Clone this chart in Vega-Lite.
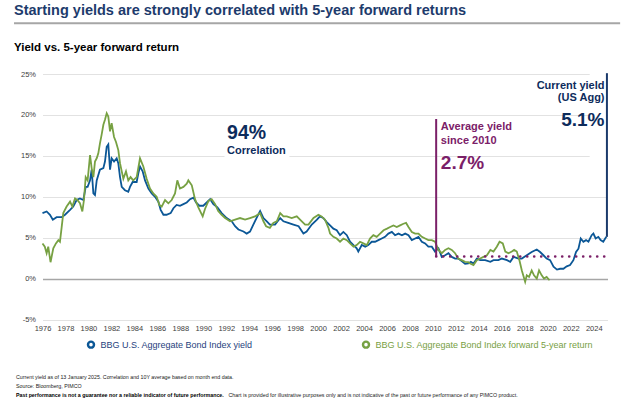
{
 "$schema": "https://vega.github.io/schema/vega-lite/v6.json",
 "width": 565, "height": 245.5,
 "autosize": {"type": "none"},
 "padding": {"left": 42.5, "top": 74, "right": 16.5, "bottom": 79.5},
 "background": "white",
 "resolve": {"axis": {"x": "independent", "y": "independent"}},
 "data": {"values": [
  {"series":"yield","year":1976.0,"value":8.0},{"series":"yield","year":1976.36,"value":8.2},{"series":"yield","year":1976.65,"value":7.8},{"series":"yield","year":1976.9,"value":7.2},{"series":"yield","year":1977.23,"value":7.5},{"series":"yield","year":1977.67,"value":7.5},{"series":"yield","year":1977.96,"value":7.8},{"series":"yield","year":1978.4,"value":8.4},{"series":"yield","year":1978.68,"value":8.8},{"series":"yield","year":1978.97,"value":9.6},{"series":"yield","year":1979.26,"value":9.8},{"series":"yield","year":1979.56,"value":9.6},{"series":"yield","year":1979.76,"value":11.2},{"series":"yield","year":1979.93,"value":11.2},{"series":"yield","year":1980.14,"value":12.0},{"series":"yield","year":1980.28,"value":13.3},{"series":"yield","year":1980.43,"value":10.4},{"series":"yield","year":1980.57,"value":10.2},{"series":"yield","year":1980.72,"value":12.0},{"series":"yield","year":1981.0,"value":13.3},{"series":"yield","year":1981.3,"value":13.5},{"series":"yield","year":1981.44,"value":14.3},{"series":"yield","year":1981.59,"value":16.1},{"series":"yield","year":1981.73,"value":16.4},{"series":"yield","year":1981.88,"value":13.3},{"series":"yield","year":1982.02,"value":14.7},{"series":"yield","year":1982.23,"value":14.3},{"series":"yield","year":1982.46,"value":14.7},{"series":"yield","year":1982.6,"value":14.1},{"series":"yield","year":1982.75,"value":12.4},{"series":"yield","year":1982.9,"value":11.2},{"series":"yield","year":1983.18,"value":10.8},{"series":"yield","year":1983.47,"value":10.6},{"series":"yield","year":1983.62,"value":11.2},{"series":"yield","year":1983.85,"value":11.8},{"series":"yield","year":1984.2,"value":11.8},{"series":"yield","year":1984.35,"value":12.9},{"series":"yield","year":1984.49,"value":13.7},{"series":"yield","year":1984.72,"value":13.1},{"series":"yield","year":1984.93,"value":12.0},{"series":"yield","year":1985.22,"value":11.0},{"series":"yield","year":1985.51,"value":10.4},{"series":"yield","year":1985.8,"value":10.0},{"series":"yield","year":1986.09,"value":9.4},{"series":"yield","year":1986.29,"value":8.4},{"series":"yield","year":1986.53,"value":7.8},{"series":"yield","year":1986.8,"value":7.8},{"series":"yield","year":1987.16,"value":8.0},{"series":"yield","year":1987.4,"value":8.6},{"series":"yield","year":1987.68,"value":9.0},{"series":"yield","year":1987.97,"value":8.9},{"series":"yield","year":1988.27,"value":9.1},{"series":"yield","year":1988.56,"value":9.3},{"series":"yield","year":1988.85,"value":9.7},{"series":"yield","year":1989.14,"value":9.9},{"series":"yield","year":1989.37,"value":9.3},{"series":"yield","year":1989.66,"value":8.9},{"series":"yield","year":1990.0,"value":8.9},{"series":"yield","year":1990.3,"value":9.3},{"series":"yield","year":1990.6,"value":9.7},{"series":"yield","year":1990.88,"value":9.1},{"series":"yield","year":1991.23,"value":8.7},{"series":"yield","year":1991.6,"value":8.0},{"series":"yield","year":1992.04,"value":7.4},{"series":"yield","year":1992.48,"value":7.0},{"series":"yield","year":1992.77,"value":6.4},{"series":"yield","year":1993.06,"value":6.0},{"series":"yield","year":1993.5,"value":5.75},{"series":"yield","year":1993.78,"value":5.5},{"series":"yield","year":1994.07,"value":5.75},{"series":"yield","year":1994.36,"value":6.6},{"series":"yield","year":1994.71,"value":7.6},{"series":"yield","year":1994.95,"value":8.25},{"series":"yield","year":1995.24,"value":7.4},{"series":"yield","year":1995.53,"value":7.0},{"series":"yield","year":1995.8,"value":6.6},{"series":"yield","year":1996.25,"value":6.6},{"series":"yield","year":1996.7,"value":7.4},{"series":"yield","year":1996.98,"value":7.0},{"series":"yield","year":1997.4,"value":6.8},{"series":"yield","year":1997.85,"value":6.6},{"series":"yield","year":1998.3,"value":6.4},{"series":"yield","year":1998.72,"value":5.5},{"series":"yield","year":1999.0,"value":5.75},{"series":"yield","year":1999.45,"value":6.6},{"series":"yield","year":1999.9,"value":7.2},{"series":"yield","year":2000.16,"value":7.6},{"series":"yield","year":2000.45,"value":7.4},{"series":"yield","year":2000.75,"value":6.9},{"series":"yield","year":2001.04,"value":6.5},{"series":"yield","year":2001.33,"value":6.1},{"series":"yield","year":2001.62,"value":5.9},{"series":"yield","year":2001.91,"value":5.3},{"series":"yield","year":2002.2,"value":5.7},{"series":"yield","year":2002.5,"value":5.3},{"series":"yield","year":2002.78,"value":4.5},{"series":"yield","year":2003.08,"value":4.1},{"series":"yield","year":2003.36,"value":3.7},{"series":"yield","year":2003.5,"value":3.3},{"series":"yield","year":2003.8,"value":4.1},{"series":"yield","year":2004.1,"value":3.9},{"series":"yield","year":2004.37,"value":4.1},{"series":"yield","year":2004.67,"value":4.5},{"series":"yield","year":2004.96,"value":4.5},{"series":"yield","year":2005.25,"value":4.7},{"series":"yield","year":2005.54,"value":4.9},{"series":"yield","year":2005.83,"value":5.1},{"series":"yield","year":2006.12,"value":5.5},{"series":"yield","year":2006.42,"value":5.7},{"series":"yield","year":2006.7,"value":5.3},{"series":"yield","year":2007.0,"value":5.5},{"series":"yield","year":2007.3,"value":5.3},{"series":"yield","year":2007.58,"value":5.5},{"series":"yield","year":2007.87,"value":5.3},{"series":"yield","year":2008.16,"value":4.7},{"series":"yield","year":2008.45,"value":4.9},{"series":"yield","year":2008.74,"value":5.1},{"series":"yield","year":2009.03,"value":4.5},{"series":"yield","year":2009.32,"value":4.3},{"series":"yield","year":2009.6,"value":3.9},{"series":"yield","year":2009.9,"value":3.9},{"series":"yield","year":2010.18,"value":3.3},{"series":"yield","year":2010.48,"value":3.7},{"series":"yield","year":2010.77,"value":2.65},{"series":"yield","year":2011.06,"value":2.85},{"series":"yield","year":2011.35,"value":3.1},{"series":"yield","year":2011.64,"value":2.65},{"series":"yield","year":2011.93,"value":2.45},{"series":"yield","year":2012.2,"value":2.45},{"series":"yield","year":2012.5,"value":2.15},{"series":"yield","year":2012.8,"value":1.8},{"series":"yield","year":2013.08,"value":1.85},{"series":"yield","year":2013.3,"value":2.05},{"series":"yield","year":2013.53,"value":1.85},{"series":"yield","year":2013.82,"value":2.45},{"series":"yield","year":2014.11,"value":2.25},{"series":"yield","year":2014.55,"value":2.25},{"series":"yield","year":2015.0,"value":2.05},{"series":"yield","year":2015.27,"value":2.25},{"series":"yield","year":2015.7,"value":2.25},{"series":"yield","year":2016.0,"value":2.45},{"series":"yield","year":2016.45,"value":2.25},{"series":"yield","year":2016.73,"value":2.05},{"series":"yield","year":2017.02,"value":2.65},{"series":"yield","year":2017.46,"value":2.45},{"series":"yield","year":2017.74,"value":2.45},{"series":"yield","year":2018.17,"value":2.85},{"series":"yield","year":2018.6,"value":3.25},{"series":"yield","year":2019.04,"value":3.55},{"series":"yield","year":2019.33,"value":3.25},{"series":"yield","year":2019.62,"value":2.85},{"series":"yield","year":2019.9,"value":2.45},{"series":"yield","year":2020.2,"value":2.25},{"series":"yield","year":2020.5,"value":1.45},{"series":"yield","year":2020.8,"value":1.1},{"series":"yield","year":2021.07,"value":1.2},{"series":"yield","year":2021.36,"value":1.2},{"series":"yield","year":2021.65,"value":1.5},{"series":"yield","year":2021.94,"value":1.65},{"series":"yield","year":2022.23,"value":2.25},{"series":"yield","year":2022.46,"value":3.25},{"series":"yield","year":2022.67,"value":3.65},{"series":"yield","year":2022.87,"value":4.9},{"series":"yield","year":2023.1,"value":4.5},{"series":"yield","year":2023.33,"value":4.7},{"series":"yield","year":2023.54,"value":4.5},{"series":"yield","year":2023.82,"value":5.3},{"series":"yield","year":2023.97,"value":5.5},{"series":"yield","year":2024.17,"value":4.9},{"series":"yield","year":2024.4,"value":5.1},{"series":"yield","year":2024.6,"value":4.7},{"series":"yield","year":2024.83,"value":4.5},{"series":"yield","year":2025.0,"value":4.9},{"series":"yield","year":2025.1,"value":5.1},
  {"series":"return","year":1976.0,"value":4.3},{"series":"return","year":1976.2,"value":3.9},{"series":"return","year":1976.36,"value":3.1},{"series":"return","year":1976.5,"value":3.9},{"series":"return","year":1976.7,"value":2.0},{"series":"return","year":1976.94,"value":3.7},{"series":"return","year":1977.17,"value":4.3},{"series":"return","year":1977.38,"value":4.7},{"series":"return","year":1977.52,"value":4.5},{"series":"return","year":1977.67,"value":6.3},{"series":"return","year":1977.81,"value":8.0},{"series":"return","year":1978.1,"value":8.8},{"series":"return","year":1978.4,"value":9.4},{"series":"return","year":1978.6,"value":8.8},{"series":"return","year":1978.83,"value":9.8},{"series":"return","year":1979.03,"value":9.6},{"series":"return","year":1979.26,"value":9.2},{"series":"return","year":1979.47,"value":8.2},{"series":"return","year":1979.61,"value":9.6},{"series":"return","year":1979.76,"value":12.4},{"series":"return","year":1979.93,"value":12.0},{"series":"return","year":1980.14,"value":15.1},{"series":"return","year":1980.28,"value":13.5},{"series":"return","year":1980.43,"value":12.4},{"series":"return","year":1980.57,"value":14.3},{"series":"return","year":1980.72,"value":14.7},{"series":"return","year":1980.86,"value":15.3},{"series":"return","year":1981.0,"value":16.5},{"series":"return","year":1981.15,"value":17.6},{"series":"return","year":1981.3,"value":18.8},{"series":"return","year":1981.44,"value":19.4},{"series":"return","year":1981.59,"value":20.2},{"series":"return","year":1981.73,"value":19.8},{"series":"return","year":1981.88,"value":18.0},{"series":"return","year":1982.02,"value":19.0},{"series":"return","year":1982.23,"value":17.3},{"series":"return","year":1982.4,"value":16.7},{"series":"return","year":1982.6,"value":15.7},{"series":"return","year":1982.75,"value":14.1},{"series":"return","year":1982.9,"value":13.1},{"series":"return","year":1983.04,"value":12.2},{"series":"return","year":1983.27,"value":13.1},{"series":"return","year":1983.47,"value":12.0},{"series":"return","year":1983.67,"value":12.4},{"series":"return","year":1983.9,"value":12.0},{"series":"return","year":1984.2,"value":12.4},{"series":"return","year":1984.49,"value":14.7},{"series":"return","year":1984.78,"value":13.7},{"series":"return","year":1985.07,"value":12.2},{"series":"return","year":1985.36,"value":11.0},{"series":"return","year":1985.65,"value":10.4},{"series":"return","year":1985.94,"value":10.0},{"series":"return","year":1986.18,"value":9.0},{"series":"return","year":1986.38,"value":8.8},{"series":"return","year":1986.67,"value":9.6},{"series":"return","year":1986.96,"value":9.2},{"series":"return","year":1987.25,"value":9.6},{"series":"return","year":1987.54,"value":10.4},{"series":"return","year":1987.74,"value":12.0},{"series":"return","year":1987.97,"value":11.0},{"series":"return","year":1988.27,"value":11.2},{"series":"return","year":1988.56,"value":11.6},{"series":"return","year":1988.7,"value":12.0},{"series":"return","year":1989.0,"value":11.4},{"series":"return","year":1989.28,"value":9.7},{"series":"return","year":1989.57,"value":8.7},{"series":"return","year":1989.95,"value":7.6},{"series":"return","year":1990.15,"value":8.5},{"series":"return","year":1990.45,"value":9.5},{"series":"return","year":1990.73,"value":9.7},{"series":"return","year":1991.03,"value":9.1},{"series":"return","year":1991.3,"value":8.25},{"series":"return","year":1991.6,"value":7.8},{"series":"return","year":1991.9,"value":7.4},{"series":"return","year":1992.33,"value":7.0},{"series":"return","year":1992.77,"value":7.2},{"series":"return","year":1993.2,"value":7.4},{"series":"return","year":1993.64,"value":7.2},{"series":"return","year":1994.07,"value":7.4},{"series":"return","year":1994.5,"value":7.6},{"series":"return","year":1994.95,"value":8.0},{"series":"return","year":1995.24,"value":7.0},{"series":"return","year":1995.47,"value":6.4},{"series":"return","year":1995.8,"value":6.2},{"series":"return","year":1996.1,"value":6.8},{"series":"return","year":1996.4,"value":7.0},{"series":"return","year":1996.7,"value":8.0},{"series":"return","year":1996.98,"value":7.6},{"series":"return","year":1997.27,"value":7.6},{"series":"return","year":1997.7,"value":7.4},{"series":"return","year":1998.14,"value":7.6},{"series":"return","year":1998.58,"value":7.0},{"series":"return","year":1998.87,"value":6.6},{"series":"return","year":1999.16,"value":6.6},{"series":"return","year":1999.6,"value":7.4},{"series":"return","year":2000.03,"value":7.8},{"series":"return","year":2000.3,"value":7.6},{"series":"return","year":2000.6,"value":7.2},{"series":"return","year":2000.9,"value":6.2},{"series":"return","year":2001.04,"value":5.5},{"series":"return","year":2001.33,"value":5.1},{"series":"return","year":2001.62,"value":4.9},{"series":"return","year":2001.91,"value":4.5},{"series":"return","year":2002.2,"value":4.9},{"series":"return","year":2002.5,"value":4.7},{"series":"return","year":2002.78,"value":4.3},{"series":"return","year":2003.08,"value":3.9},{"series":"return","year":2003.36,"value":4.1},{"series":"return","year":2003.65,"value":4.5},{"series":"return","year":2003.94,"value":4.3},{"series":"return","year":2004.24,"value":4.1},{"series":"return","year":2004.52,"value":4.9},{"series":"return","year":2004.81,"value":5.3},{"series":"return","year":2005.1,"value":5.1},{"series":"return","year":2005.4,"value":5.5},{"series":"return","year":2005.7,"value":5.9},{"series":"return","year":2006.0,"value":6.1},{"series":"return","year":2006.27,"value":6.3},{"series":"return","year":2006.56,"value":6.5},{"series":"return","year":2006.85,"value":6.3},{"series":"return","year":2007.14,"value":6.5},{"series":"return","year":2007.43,"value":6.7},{"series":"return","year":2007.66,"value":6.8},{"series":"return","year":2007.87,"value":6.3},{"series":"return","year":2008.16,"value":5.7},{"series":"return","year":2008.45,"value":5.5},{"series":"return","year":2008.74,"value":5.5},{"series":"return","year":2009.03,"value":5.1},{"series":"return","year":2009.32,"value":4.9},{"series":"return","year":2009.6,"value":4.7},{"series":"return","year":2009.9,"value":4.7},{"series":"return","year":2010.18,"value":4.5},{"series":"return","year":2010.48,"value":3.5},{"series":"return","year":2010.77,"value":3.1},{"series":"return","year":2011.06,"value":3.5},{"series":"return","year":2011.35,"value":3.7},{"series":"return","year":2011.64,"value":3.5},{"series":"return","year":2011.93,"value":3.1},{"series":"return","year":2012.2,"value":2.45},{"series":"return","year":2012.5,"value":2.25},{"series":"return","year":2012.8,"value":2.05},{"series":"return","year":2013.08,"value":2.0},{"series":"return","year":2013.24,"value":1.85},{"series":"return","year":2013.53,"value":1.65},{"series":"return","year":2013.82,"value":2.25},{"series":"return","year":2014.11,"value":2.45},{"series":"return","year":2014.4,"value":2.65},{"series":"return","year":2014.7,"value":2.85},{"series":"return","year":2015.0,"value":3.5},{"series":"return","year":2015.27,"value":3.3},{"series":"return","year":2015.56,"value":3.9},{"series":"return","year":2015.8,"value":4.5},{"series":"return","year":2016.08,"value":4.3},{"series":"return","year":2016.3,"value":3.3},{"series":"return","year":2016.58,"value":3.1},{"series":"return","year":2016.87,"value":3.3},{"series":"return","year":2017.07,"value":3.5},{"series":"return","year":2017.3,"value":3.3},{"series":"return","year":2017.53,"value":2.25},{"series":"return","year":2017.74,"value":1.0},{"series":"return","year":2018.03,"value":-0.4},{"series":"return","year":2018.17,"value":0.4},{"series":"return","year":2018.37,"value":0.2},{"series":"return","year":2018.6,"value":1.0},{"series":"return","year":2018.8,"value":0.4},{"series":"return","year":2019.04,"value":0.0},{"series":"return","year":2019.24,"value":1.0},{"series":"return","year":2019.47,"value":0.4},{"series":"return","year":2019.67,"value":0.0},{"series":"return","year":2019.9,"value":0.2},{"series":"return","year":2020.15,"value":-0.2}
 ]},
 "layer": [
  {"mark": {"type": "line", "strokeWidth": 1.8, "interpolate": "linear"},
   "encoding": {
    "x": {"field": "year", "type": "quantitative", "scale": {"domain": [1976, 2025.2], "nice": false, "zero": false},
     "axis": {"title": null, "values": [1976,1978,1980,1982,1984,1986,1988,1990,1992,1994,1996,1998,2000,2002,2004,2006,2008,2010,2012,2014,2016,2018,2020,2022,2024], "format": "d", "grid": false, "ticks": false, "domain": false, "labelFontSize": 7.5, "labelColor": "#404040", "labelPadding": 5, "labelOverlap": false, "labelFlush": false, "labelBound": false, "labelSeparation": 0}},
    "y": {"field": "value", "type": "quantitative", "scale": {"domain": [-5, 25], "nice": false, "zero": false},
     "axis": {"title": null, "values": [-5,0,5,10,15,20,25], "labelExpr": "datum.value + '%'", "grid": true, "ticks": false, "domain": false, "labelFontSize": 7.5, "labelColor": "#404040", "labelPadding": 7,
      "gridColor": {"condition": {"test": "datum.value === 0", "value": "#a6a6a6"}, "value": "#e2e2e2"},
      "gridWidth": {"condition": {"test": "datum.value === 0", "value": 1.4}, "value": 1}}},
    "color": {"field": "series", "type": "nominal", "scale": {"domain": ["yield", "return"], "range": ["#0b5796", "#77a143"]},
     "legend": {"title": null, "orient": "none", "legendX": 44, "legendY": 266, "direction": "horizontal", "symbolType": "circle", "symbolSize": 6, "symbolStrokeWidth": 6, "labelFontSize": 9, "labelFont": "Liberation Sans", "labelOffset": 5, "labelLimit": 400, "columnPadding": 99,
      "labelExpr": "datum.value == 'yield' ? 'BBG U.S. Aggregate Bond Index yield' : 'BBG U.S. Aggregate Bond Index forward 5-year return'",
      "labelColor": {"expr": "datum.value == 'yield' ? '#1f3f7d' : '#77a043'"}}}
   }},
  {"data": {"values": [{}]},
   "mark": {"type": "rect", "color": "white"},
   "encoding": {"x": {"datum": 2023.65, "type": "quantitative", "axis": null}, "x2": {"datum": 2025.1}, "y": {"datum": 25.3, "type": "quantitative", "axis": null}, "y2": {"datum": 14.0}}},
  {"data": {"values": [{}]},
   "mark": {"type": "rect", "color": "white"},
   "encoding": {"x": {"datum": 1991.85, "type": "quantitative", "axis": null}, "x2": {"datum": 1997.5}, "y": {"datum": 18.5, "type": "quantitative", "axis": null}, "y2": {"datum": 14.3}}},
  {"data": {"values": [{}]},
   "mark": {"type": "rule", "color": "#7b2068", "strokeWidth": 2},
   "encoding": {"x": {"datum": 2010.28, "type": "quantitative", "axis": null}, "y": {"datum": 19.5, "type": "quantitative", "axis": null}, "y2": {"datum": 2.7}}},
  {"data": {"values": [{}]},
   "mark": {"type": "rule", "color": "#7b2068", "strokeWidth": 2.6, "strokeDash": [0.1, 6.9], "strokeCap": "round"},
   "encoding": {"x": {"datum": 2010.28, "type": "quantitative", "axis": null}, "x2": {"datum": 2025.15}, "y": {"datum": 2.7, "type": "quantitative", "axis": null}}},
  {"data": {"values": [{}]},
   "mark": {"type": "rule", "color": "#1b3a6b", "strokeWidth": 2},
   "encoding": {"x": {"datum": 2025.15, "type": "quantitative", "axis": null}, "y": {"datum": 25.1, "type": "quantitative", "axis": null}, "y2": {"datum": 5.1}}},
  {"data": {"values": [{}]},
   "mark": {"type": "rule", "color": "#a6a6a6", "strokeWidth": 2},
   "encoding": {"x": {"datum": 1973.52, "type": "quantitative", "axis": null}, "x2": {"datum": 2026.3}, "y": {"datum": 31.2, "type": "quantitative", "axis": null}}},
  {"data": {"values": [{}]},
   "mark": {"type": "text", "text": "Starting yields are strongly correlated with 5-year forward returns", "align": "left", "baseline": "alphabetic", "fontSize": 14.5, "fontWeight": "bold", "color": "#1d3b6c", "font": "Liberation Sans"},
   "encoding": {"x": {"datum": 1973.52, "type": "quantitative", "axis": null}, "y": {"datum": 32.15, "type": "quantitative", "axis": null}}},
  {"data": {"values": [{}]},
   "mark": {"type": "text", "text": "Yield vs. 5-year forward return", "align": "left", "baseline": "alphabetic", "fontSize": 11.5, "fontWeight": "bold", "color": "#000000", "font": "Liberation Sans"},
   "encoding": {"x": {"datum": 1973.52, "type": "quantitative", "axis": null}, "y": {"datum": 27.81, "type": "quantitative", "axis": null}}},
  {"data": {"values": [{}]},
   "mark": {"type": "text", "text": "94%", "align": "left", "baseline": "alphabetic", "fontSize": 19.5, "fontWeight": "bold", "color": "#0d2c5c", "font": "Liberation Sans"},
   "encoding": {"x": {"datum": 1992.07, "type": "quantitative", "axis": null}, "y": {"datum": 17.1, "type": "quantitative", "axis": null}}},
  {"data": {"values": [{}]},
   "mark": {"type": "text", "text": "Correlation", "align": "left", "baseline": "alphabetic", "fontSize": 11, "fontWeight": "bold", "color": "#0d2c5c", "font": "Liberation Sans"},
   "encoding": {"x": {"datum": 1992.07, "type": "quantitative", "axis": null}, "y": {"datum": 15.25, "type": "quantitative", "axis": null}}},
  {"data": {"values": [{}]},
   "mark": {"type": "text", "text": "Average yield", "align": "left", "baseline": "alphabetic", "fontSize": 11, "fontWeight": "bold", "color": "#7b2068", "font": "Liberation Sans"},
   "encoding": {"x": {"datum": 2010.69, "type": "quantitative", "axis": null}, "y": {"datum": 18.2, "type": "quantitative", "axis": null}}},
  {"data": {"values": [{}]},
   "mark": {"type": "text", "text": "since 2010", "align": "left", "baseline": "alphabetic", "fontSize": 11, "fontWeight": "bold", "color": "#7b2068", "font": "Liberation Sans"},
   "encoding": {"x": {"datum": 2010.69, "type": "quantitative", "axis": null}, "y": {"datum": 16.5, "type": "quantitative", "axis": null}}},
  {"data": {"values": [{}]},
   "mark": {"type": "text", "text": "2.7%", "align": "left", "baseline": "alphabetic", "fontSize": 19, "fontWeight": "bold", "color": "#7b2068", "font": "Liberation Sans"},
   "encoding": {"x": {"datum": 2010.69, "type": "quantitative", "axis": null}, "y": {"datum": 13.4, "type": "quantitative", "axis": null}}},
  {"data": {"values": [{}]},
   "mark": {"type": "text", "text": "Current yield", "align": "right", "baseline": "alphabetic", "fontSize": 11, "fontWeight": "bold", "color": "#0d2c5c", "font": "Liberation Sans"},
   "encoding": {"x": {"datum": 2024.94, "type": "quantitative", "axis": null}, "y": {"datum": 23.2, "type": "quantitative", "axis": null}}},
  {"data": {"values": [{}]},
   "mark": {"type": "text", "text": "(US Agg)", "align": "right", "baseline": "alphabetic", "fontSize": 11, "fontWeight": "bold", "color": "#0d2c5c", "font": "Liberation Sans"},
   "encoding": {"x": {"datum": 2024.94, "type": "quantitative", "axis": null}, "y": {"datum": 21.74, "type": "quantitative", "axis": null}}},
  {"data": {"values": [{}]},
   "mark": {"type": "text", "text": "5.1%", "align": "right", "baseline": "alphabetic", "fontSize": 19, "fontWeight": "bold", "color": "#0d2c5c", "font": "Liberation Sans"},
   "encoding": {"x": {"datum": 2024.94, "type": "quantitative", "axis": null}, "y": {"datum": 18.7, "type": "quantitative", "axis": null}}},
  {"data": {"values": [{}]},
   "mark": {"type": "text", "text": "Current yield as of 13 January 2025. Correlation and 10Y average based on month end data.", "align": "left", "baseline": "alphabetic", "fontSize": 5.3, "color": "#1a1a1a", "font": "Liberation Sans"},
   "encoding": {"x": {"datum": 1973.69, "type": "quantitative", "axis": null}, "y": {"datum": -12.28, "type": "quantitative", "axis": null}}},
  {"data": {"values": [{}]},
   "mark": {"type": "text", "text": "Source: Bloomberg, PIMCO", "align": "left", "baseline": "alphabetic", "fontSize": 5.3, "color": "#1a1a1a", "font": "Liberation Sans"},
   "encoding": {"x": {"datum": 1973.69, "type": "quantitative", "axis": null}, "y": {"datum": -13.38, "type": "quantitative", "axis": null}}},
  {"data": {"values": [{}]},
   "mark": {"type": "text", "text": "Past performance is not a guarantee nor a reliable indicator of future performance.", "align": "left", "baseline": "alphabetic", "fontSize": 5.3, "fontWeight": "bold", "color": "#000000", "font": "Liberation Sans"},
   "encoding": {"x": {"datum": 1973.69, "type": "quantitative", "axis": null}, "y": {"datum": -14.48, "type": "quantitative", "axis": null}}},
  {"data": {"values": [{}]},
   "mark": {"type": "text", "text": "Chart is provided for illustrative purposes only and is not indicative of the past or future performance of any PIMCO product.", "align": "left", "baseline": "alphabetic", "fontSize": 5.3, "color": "#1a1a1a", "font": "Liberation Sans"},
   "encoding": {"x": {"datum": 1992.2, "type": "quantitative", "axis": null}, "y": {"datum": -14.48, "type": "quantitative", "axis": null}}}
 ],
 "config": {"view": {"stroke": null}, "font": "Liberation Sans", "axis": {"labelFont": "Liberation Sans", "labelOverlap": false, "labelSeparation": 0}}
}
